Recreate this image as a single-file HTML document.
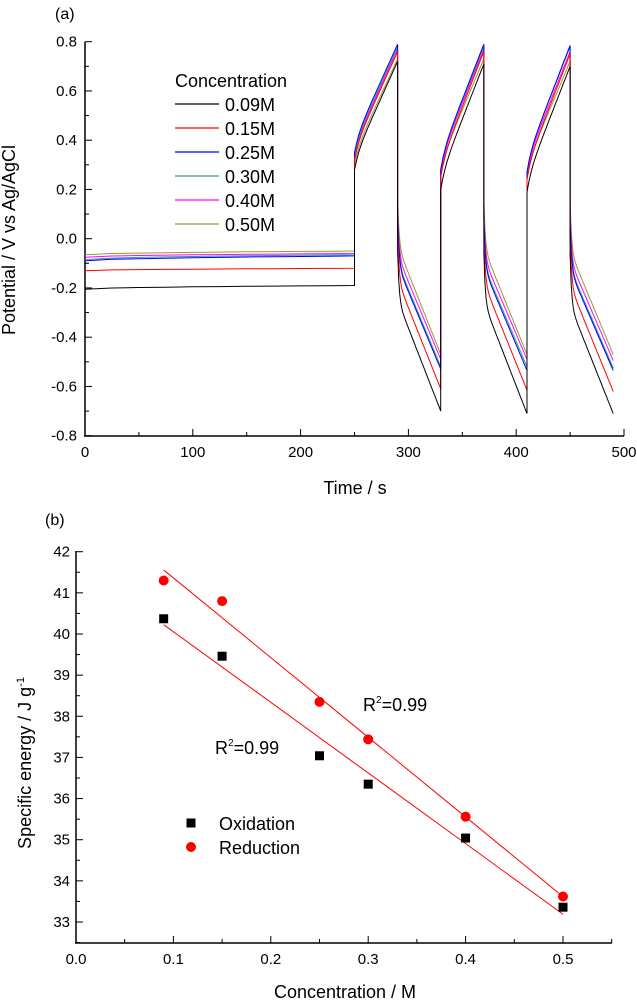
<!DOCTYPE html>
<html><head><meta charset="utf-8"><style>
html,body{margin:0;padding:0;background:#fff;}
svg{display:block;font-family:"Liberation Sans",Arial,sans-serif;}
</style></head><body>
<svg id="s" width="637" height="1000" viewBox="0 0 637 1000">
<text x="55" y="19" font-size="16">(a)</text>
<text x="45" y="525" font-size="16">(b)</text>
<g id="ga"></g>
<g id="gb"></g>
</svg>
<script>
// ---- Chart A data ----
const seriesNames=["0.09M","0.15M","0.25M","0.30M","0.40M","0.50M"];
const seriesColors=["#000000","#ff0000","#0000ff","#339999","#ff00ff","#999933"];
const restStart=[-0.205,-0.13,-0.09,-0.085,-0.075,-0.065];
const restEnd=[-0.19,-0.12,-0.07,-0.065,-0.06,-0.05];
const chargeStart=[[0.28,0.20,0.19],[0.32,0.25,0.24],[0.35,0.28,0.27],[0.34,0.28,0.27],[0.33,0.27,0.26],[0.30,0.26,0.25]];
const chargeEnd=[[0.72,0.71,0.70],[0.76,0.76,0.75],[0.79,0.79,0.785],[0.78,0.78,0.78],[0.77,0.77,0.76],[0.73,0.73,0.72]];
const dischargeStart=[[-0.25,-0.26,-0.27],[-0.17,-0.18,-0.19],[-0.11,-0.12,-0.13],[-0.10,-0.11,-0.12],[-0.07,-0.08,-0.09],[-0.03,-0.04,-0.05]];
const dischargeEnd=[[-0.70,-0.71,-0.71],[-0.61,-0.615,-0.62],[-0.53,-0.535,-0.535],[-0.52,-0.52,-0.525],[-0.49,-0.49,-0.495],[-0.47,-0.47,-0.47]];
const xTicksA=[0,100,200,300,400,500];
const yTicksA=[-0.8,-0.6,-0.4,-0.2,0.0,0.2,0.4,0.6,0.8];
// ---- Chart B data ----
const concX=[0.09,0.15,0.25,0.3,0.4,0.5];
const oxidation=[40.37,39.46,37.04,36.35,35.04,33.36];
const reduction=[41.3,40.8,38.35,37.44,35.56,33.62];
const xTicksB=[0.0,0.1,0.2,0.3,0.4,0.5];
const yTicksB=[33,34,35,36,37,38,39,40,41,42];

const NS="http://www.w3.org/2000/svg";
function mk(p,tag,at){const e=document.createElementNS(NS,tag);for(const k in at)e.setAttribute(k,at[k]);p.appendChild(e);return e;}

// Chart A
const ga=document.getElementById('ga');
const ax=v=>85+(v/500)*539, ay=v=>41.7+(0.8-v)/1.6*394;
let l;
l=mk(ga,'line',{x1:85,y1:41.7,x2:85,y2:436,stroke:'#000','stroke-width':1.5});


l=mk(ga,'line',{x1:84,y1:436,x2:624,y2:436,stroke:'#000','stroke-width':1.5});


for(let v=0;v<=500;v+=50){mk(ga,'line',{x1:ax(v),y1:436,x2:ax(v),y2:v%100==0?429:432,stroke:'#000','stroke-width':1});}
for(let i=0;i<=16;i++){const v=-0.8+i*0.1;mk(ga,'line',{x1:85,y1:ay(v),x2:i%2==0?92:89,y2:ay(v),stroke:'#000','stroke-width':1});}
xTicksA.forEach(v=>{const t=mk(ga,'text',{x:ax(v),y:457,'font-size':15,'text-anchor':'middle'});t.textContent=v;

});
yTicksA.forEach(v=>{const t=mk(ga,'text',{x:77,y:ay(v)+5,'font-size':15,'text-anchor':'end'});t.textContent=v.toFixed(1);

});
let t=mk(ga,'text',{x:355,y:494,'font-size':18,'text-anchor':'middle'});t.textContent='Time / s';


t=mk(ga,'text',{x:0,y:0,'font-size':18,'text-anchor':'middle',transform:'translate(15,240) rotate(-90)'});t.textContent='Potential / V vs Ag/AgCl';


for(let s=5;s>=0;s--){
  const pts=[];const P=(tt,v)=>pts.push(ax(tt).toFixed(1)+','+ay(v).toFixed(1));
  for(let k=0;k<=10;k++){const tt=k*25;P(tt,restStart[s]+(restEnd[s]-restStart[s])*Math.sqrt(k/10));}
  for(let c=0;c<3;c++){
    const t0=250+c*80, cs=chargeStart[s][c], ce=chargeEnd[s][c];
    P(t0,cs);
    for(let k=1;k<=20;k++){const f=k/20;const v=cs+(ce-cs)*(0.12*(1-Math.exp(-f*10))+0.88*f);P(t0+40*f,v);}
    const t1=t0+40, ds=dischargeStart[s][c], de=dischargeEnd[s][c];
    P(t1,ds+0.2);
    for(let k=1;k<=40;k++){const f=k/40;const v=ds+0.2-0.2*(1-Math.exp(-f*30))+(de-ds)*f;P(t1+40*f,v);}
    if(c<2)P(t1+40,de);
  }
  const pl=mk(ga,'polyline',{points:pts.join(' '),fill:'none',stroke:seriesColors[s],'stroke-width':1});
  
  
}
t=mk(ga,'text',{x:175,y:87,'font-size':18});t.textContent='Concentration';


seriesNames.forEach((n,i)=>{const y=104+i*24;
  const g=mk(ga,'g',{});
  
  
  mk(g,'line',{x1:175,y1:y,x2:219,y2:y,stroke:seriesColors[i],'stroke-width':1.3});
  const tx=mk(g,'text',{x:225,y:y+7,'font-size':18});tx.textContent=n;});

// Chart B
const gb=document.getElementById('gb');
const bx=v=>76+(v/0.5)*487, by=v=>922-(v-33)/9*370.3;
l=mk(gb,'line',{x1:76,y1:551,x2:76,y2:943,stroke:'#000','stroke-width':1.5});


l=mk(gb,'line',{x1:75,y1:943,x2:612,y2:943,stroke:'#000','stroke-width':1.5});


for(let i=0;i<=11;i++){const v=i*0.05;mk(gb,'line',{x1:bx(v),y1:943,x2:bx(v),y2:i%2==0?936:939,stroke:'#000','stroke-width':1});}
for(let i=0;i<=19;i++){const v=32.5+i*0.5;mk(gb,'line',{x1:76,y1:by(v),x2:(v%1==0)?83:80,y2:by(v),stroke:'#000','stroke-width':1});}
xTicksB.forEach(v=>{const tx=mk(gb,'text',{x:bx(v),y:964,'font-size':15,'text-anchor':'middle'});tx.textContent=v.toFixed(1);

});
yTicksB.forEach(v=>{const tx=mk(gb,'text',{x:70,y:by(v)+5,'font-size':15,'text-anchor':'end'});tx.textContent=v;

});
t=mk(gb,'text',{x:345,y:998,'font-size':18,'text-anchor':'middle'});t.textContent='Concentration / M';


t=mk(gb,'text',{x:0,y:0,'font-size':18,'text-anchor':'middle',transform:'translate(31,763) rotate(-90)'});
t.innerHTML='Specific energy / J g<tspan font-size="11" dy="-7">-1</tspan>';


function fit(xs,ys){const n=xs.length;const mx=xs.reduce((a,b)=>a+b)/n,my=ys.reduce((a,b)=>a+b)/n;let sxy=0,sxx=0;xs.forEach((x,i)=>{sxy+=(x-mx)*(ys[i]-my);sxx+=(x-mx)*(x-mx);});const m=sxy/sxx;return [m,my-m*mx];}
[[reduction,'fit-line-reduction'],[oxidation,'fit-line-oxidation']].forEach(([ys,nm])=>{const [m,b]=fit(concX,ys);
  const ln=mk(gb,'line',{x1:bx(0.09),y1:by(m*0.09+b),x2:bx(0.5),y2:by(m*0.5+b),stroke:'#ff0000','stroke-width':1});
  
  });
concX.forEach((x,i)=>{const r=mk(gb,'rect',{x:bx(x)-4.5,y:by(oxidation[i])-4.5,width:9,height:9,fill:'#000'});
  
  
  const c=mk(gb,'circle',{cx:bx(x),cy:by(reduction[i]),r:5,fill:'#ff0000'});
  
  });
t=mk(gb,'text',{x:363,y:711,'font-size':18});t.innerHTML='R<tspan font-size="10" dy="-8">2</tspan><tspan dy="8">=0.99</tspan>';


t=mk(gb,'text',{x:215,y:754,'font-size':18});t.innerHTML='R<tspan font-size="10" dy="-8">2</tspan><tspan dy="8">=0.99</tspan>';


let g=mk(gb,'g',{});


mk(g,'rect',{x:186.5,y:818.5,width:9,height:9,fill:'#000'});
t=mk(g,'text',{x:219,y:830,'font-size':18});t.textContent='Oxidation';
g=mk(gb,'g',{});


mk(g,'circle',{cx:191,cy:847,r:5,fill:'#ff0000'});
t=mk(g,'text',{x:219,y:854,'font-size':18});t.textContent='Reduction';
</script>
</body></html>
